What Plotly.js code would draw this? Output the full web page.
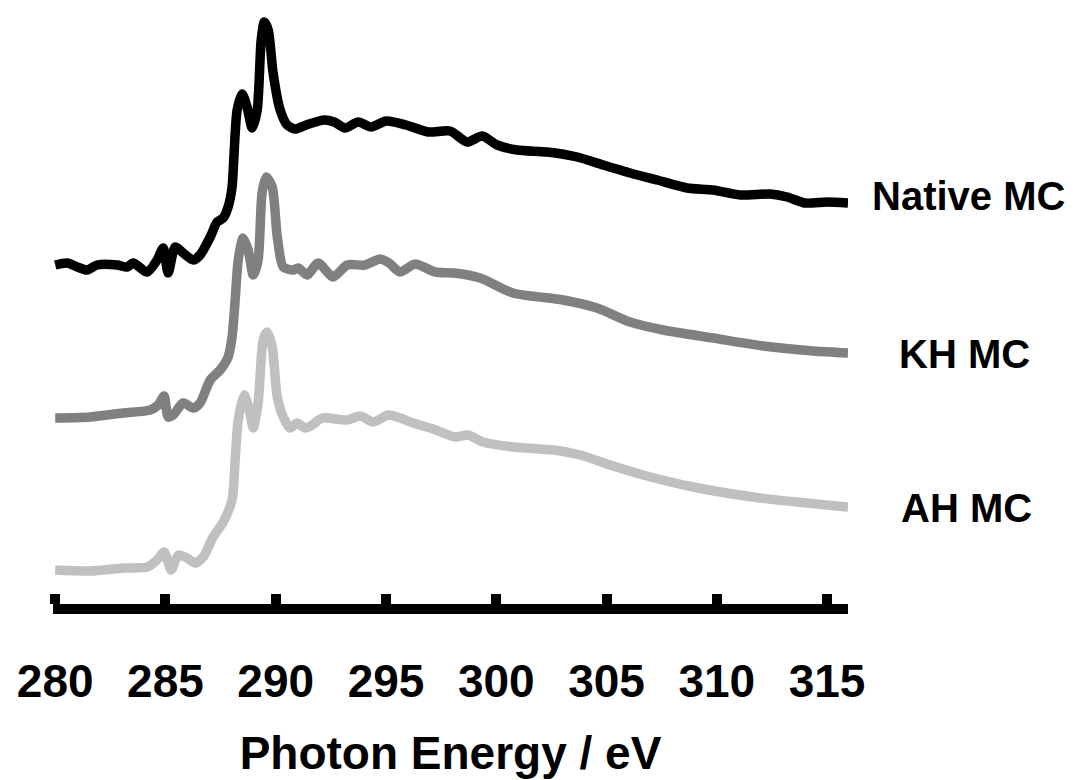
<!DOCTYPE html>
<html>
<head>
<meta charset="utf-8">
<script src="https://cdn.plot.ly/plotly-3.0.1.min.js"></script>
<style>html,body{margin:0;padding:0;background:#fff;}#chart{width:1073px;height:780px;}</style>
</head>
<body>
<div id="chart"></div>
<script>
// Photon energy (eV) and intensity (a.u., stacked) for each sample
const nativeE = [280.00,280.54,281.00,281.45,281.90,282.81,283.26,283.54,284.17,284.62,284.90,285.12,285.44,285.80,286.26,286.57,287.03,287.34,287.62,287.84,288.02,288.12,288.25,288.48,288.70,288.93,289.16,289.34,289.48,289.66,289.88,290.20,290.52,290.88,291.38,292.20,292.65,293.15,293.74,294.33,295.01,295.91,296.91,297.91,298.68,299.36,300.04,300.95,302.31,303.67,304.85,306.07,307.29,308.65,309.83,311.06,312.42,313.19,314.00,315.00,315.95];
const nativeI = [3.39,3.41,3.37,3.34,3.39,3.39,3.37,3.41,3.32,3.44,3.56,3.31,3.57,3.51,3.44,3.49,3.67,3.82,3.86,3.97,4.17,4.54,4.94,5.10,4.97,4.76,4.94,5.64,5.82,5.74,5.31,4.94,4.79,4.75,4.79,4.84,4.82,4.76,4.82,4.77,4.83,4.79,4.72,4.73,4.62,4.68,4.59,4.54,4.52,4.47,4.39,4.31,4.24,4.16,4.14,4.09,4.10,4.07,4.01,4.02,4.01];

const khE = [280.00,281.59,283.08,284.31,284.67,284.94,285.12,285.35,285.80,286.26,286.57,287.03,287.48,287.84,288.02,288.16,288.30,288.52,288.75,288.98,289.20,289.38,289.57,289.84,290.07,290.34,290.79,291.02,291.43,291.92,292.60,293.24,294.05,294.73,295.14,295.64,296.32,297.23,298.09,299.27,300.76,303.03,304.57,306.07,307.57,309.83,312.10,314.37,315.95];
const khI = [1.86,1.87,1.91,1.94,1.99,2.08,1.87,1.89,2.01,1.96,2.01,2.24,2.34,2.47,2.67,3.04,3.44,3.66,3.54,3.29,3.44,4.11,4.27,4.17,3.67,3.37,3.34,3.36,3.29,3.41,3.27,3.39,3.39,3.45,3.41,3.32,3.40,3.32,3.31,3.26,3.11,3.04,2.96,2.82,2.74,2.66,2.58,2.53,2.51];

const ahE = [280.00,281.59,283.08,284.17,284.62,284.94,285.26,285.58,285.98,286.35,286.71,287.16,287.62,288.02,288.16,288.30,288.57,288.80,288.98,289.20,289.43,289.61,289.84,290.07,290.34,290.65,290.97,291.33,291.65,292.11,293.24,293.83,294.42,295.10,295.51,296.23,297.14,298.14,298.72,299.40,300.76,302.58,303.80,305.16,306.66,308.93,311.96,315.95];
const ahI = [0.34,0.33,0.36,0.37,0.44,0.52,0.34,0.49,0.46,0.41,0.47,0.67,0.82,1.04,1.44,1.84,2.09,1.94,1.76,2.01,2.64,2.72,2.57,2.07,1.87,1.76,1.81,1.76,1.79,1.86,1.84,1.88,1.82,1.89,1.87,1.81,1.75,1.67,1.69,1.62,1.57,1.54,1.49,1.39,1.29,1.17,1.06,0.97];

const seriesNames = ["Native MC","KH MC","AH MC"];
const seriesColors = ["#000000","#808080","#c0c0c0"];
const labelY = [4.08,2.50,0.96];
const labelX = [1.028,1.062,1.064];
const tickVals = [280,285,290,295,300,305,310,315];
const xTitle = "Photon Energy / eV";

const F = "Liberation Sans, Arial, sans-serif";
const xs = [nativeE, khE, ahE];
const ys = [nativeI, khI, ahI];
const traces = xs.map((x,i)=>({
  x: x, y: ys[i], type:'scatter', mode:'lines', name: seriesNames[i],
  line:{color:seriesColors[i], width:9.5, shape:'spline', smoothing:0.7},
  hoverinfo:'skip'
}));

const annotations = seriesNames.map((n,i)=>({
  text:n, xref:'paper', yref:'y', x:labelX[i], y:labelY[i],
  xanchor:'left', yanchor:'middle', showarrow:false,
  font:{family:F, size:40, color:'#000', weight:700}
}));

const layout = {
  width:1073, height:780,
  margin:{l:53, r:225, t:0, b:176, pad:0},
  paper_bgcolor:'#fff', plot_bgcolor:'#fff',
  showlegend:false,
  xaxis:{
    range:[279.9,315.95], tickvals:tickVals, ticktext:tickVals.map(String),
    showline:true, linewidth:10, linecolor:'#000',
    ticks:'inside', ticklen:10, tickwidth:10, tickcolor:'#000',
    showgrid:false, zeroline:false, fixedrange:true,
    tickfont:{family:F, size:46, color:'#000', weight:700},
    ticklabelstandoff:28,
    title:{text:xTitle, font:{family:F, size:46, color:'#000', weight:700}, standoff:35}
  },
  yaxis:{range:[0,6.04], visible:false, fixedrange:true},
  annotations: annotations
};
Plotly.newPlot('chart', traces, layout, {displayModeBar:false, staticPlot:true});
</script>
</body>
</html>
